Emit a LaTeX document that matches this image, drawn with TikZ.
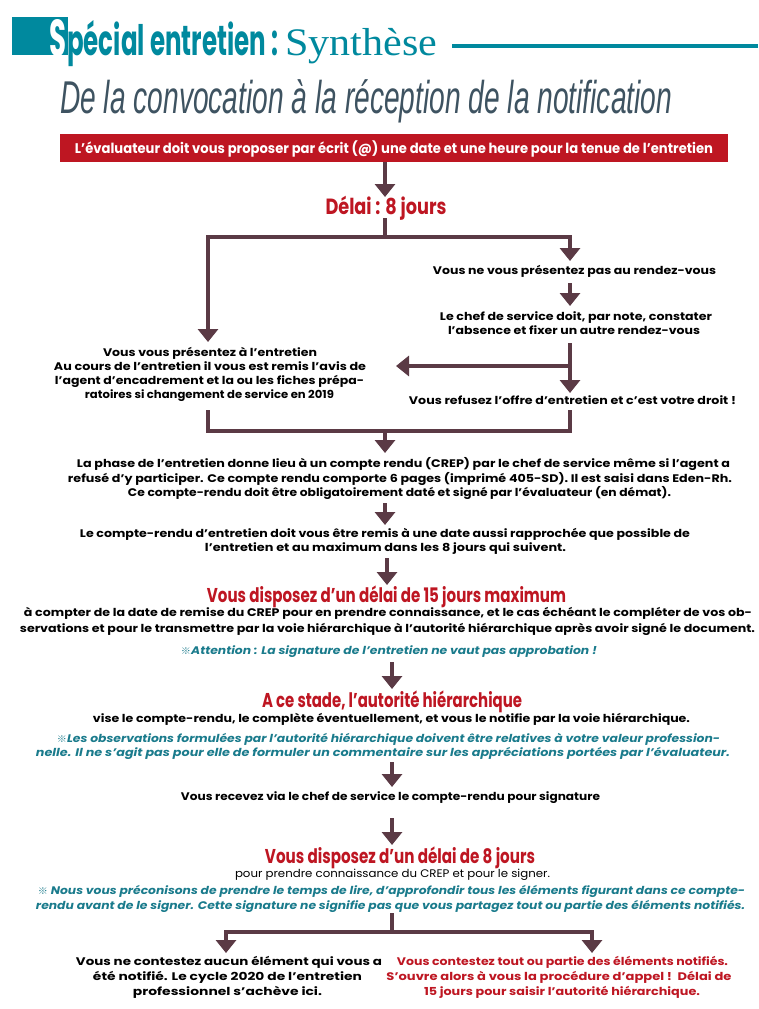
\documentclass[tikz,border=0pt]{standalone}
\usepackage{fontspec}
\setmainfont{Poppins}
\newfontfamily\lib{Liberation Sans}
\newfontfamily\libs{Liberation Serif}
\newfontfamily\cjk{Noto Sans CJK SC}
\usetikzlibrary{arrows.meta}
\definecolor{teal1}{HTML}{00899E}
\definecolor{slate}{HTML}{3E5361}
\definecolor{red1}{HTML}{BE1622}
\definecolor{brn}{HTML}{5B3A45}
\definecolor{tealtx}{HTML}{1A7B8C}
\newcommand\W[2]{\resizebox{#1pt}{\height}{#2}}
\newcommand\mk{{\cjk\fontsize{9}{9}\selectfont ※}}
\begin{document}
\begin{tikzpicture}[x=1pt,y=-1pt,
  txt/.style={inner sep=0pt, anchor=base, font=\bfseries\fontsize{11}{12}\selectfont, text=black},
  reg/.style={txt, font=\fontsize{11}{12}\selectfont},
  redtx/.style={txt, text=red1},
  head/.style={inner sep=0pt, anchor=base, text=red1, font=\bfseries\fontsize{20}{22}\selectfont},
  note/.style={txt, text=tealtx, font=\bfseries\itshape\fontsize{11}{12}\selectfont},
  ln/.style={draw=brn, line width=4.5pt},
  arr/.style={draw=brn, line width=4.5pt, -{Triangle[width=20pt,length=13pt]}}]
\useasboundingbox (0,0) rectangle (758,1009);
\fill[white] (0,0) rectangle (758,1009);

% header
\fill[teal1] (12,17) rectangle (68,55);
\node[inner sep=0pt, anchor=base west, text=white, font=\bfseries\fontsize{52}{52}\selectfont] (hS) at (49,56) {\W{17}{S}};
\node[inner sep=0pt, anchor=base west, text=teal1, font=\bfseries\fontsize{42}{42}\selectfont] (hsp) at (67,55) {\W{211}{pécial entretien :}};
\node[inner sep=0pt, anchor=base west, text=teal1, font=\libs\fontsize{39}{39}\selectfont] (hsy) at (285,55) {\W{152}{Synthèse}};
\coordinate (hl1) at (452,46);
\coordinate (hl2) at (758,46);
\draw[teal1, line width=4pt] (hl1) -- (hl2);
\node[inner sep=0pt, anchor=base west, text=slate, font=\lib\itshape\fontsize{46}{46}\selectfont] (title) at (60,113) {\W{612}{De la convocation à la réception de la notification}};

% red box
\node[fill=red1, minimum width=668pt, minimum height=28pt, inner sep=0pt] (box) at (394,148) {};
\node[txt, text=white, font=\bfseries\fontsize{14}{15}\selectfont] (boxt) at (394,153) {\W{638}{L’évaluateur doit vous proposer par écrit (@) une date et une heure pour la tenue de l’entretien}};

\node[head, font=\bfseries\fontsize{22}{24}\selectfont] (delai) at (386,214) {\W{121}{Délai : 8 jours}};

\node[txt] (nev) at (574.5,274) {\W{283}{Vous ne vous présentez pas au rendez-vous}};
\node[txt] (chef1) at (576,320) {\W{272}{Le chef de service doit, par note, constater}};
\node[txt] (chef2) at (574,334) {\W{252}{l’absence et fixer un autre rendez-vous}};
\node[txt] (refus) at (572.5,404) {\W{327}{Vous refusez l’offre d’entretien et c’est votre droit !}};

\node[txt] (pr1) at (210,356) {\W{214}{Vous vous présentez à l’entretien}};
\node[txt] (pr2) at (210,370) {\W{312}{Au cours de l’entretien il vous est remis l’avis de}};
\node[txt] (pr3) at (209.5,384) {\W{309}{l’agent d’encadrement et la ou les fiches prépa-}};
\node[txt] (pr4) at (209.5,398) {\W{249}{ratoires si changement de service en 2019}};

\node[txt] (cr1) at (403.5,467) {\W{653}{La phase de l’entretien donne lieu à un compte rendu (CREP) par le chef de service même si l’agent a}};
\node[txt] (cr2) at (400,482) {\W{664}{refusé d’y participer. Ce compte rendu comporte 6 pages (imprimé 405-SD). Il est saisi dans Eden-Rh.}};
\node[txt] (cr3) at (399.5,496) {\W{543}{Ce compte-rendu doit être obligatoirement daté et signé par l’évaluateur (en démat).}};

\node[txt] (rm1) at (385,537) {\W{610}{Le compte-rendu d’entretien doit vous être remis à une date aussi rapprochée que possible de}};
\node[txt] (rm2) at (385.5,551) {\W{361}{l’entretien et au maximum dans les 8 jours qui suivent.}};

\node[head] (h15) at (386.5,602) {\W{359}{Vous disposez d’un délai de 15 jours maximum}};
\node[txt] (cp1) at (388,616) {\W{728}{à compter de la date de remise du CREP pour en prendre connaissance, et le cas échéant le compléter de vos ob-}};
\node[txt] (cp2) at (387.5,632) {\W{735}{servations et pour le transmettre par la voie hiérarchique à l’autorité hiérarchique après avoir signé le document.}};
\node[note] (att) at (389,654) {\W{416}{\mk Attention : La signature de l’entretien ne vaut pas approbation !}};

\node[head] (hst) at (392,707) {\W{260}{A ce stade, l’autorité hiérarchique}};
\node[txt] (vise) at (391.5,722) {\W{597}{vise le compte-rendu, le complète éventuellement, et vous le notifie par la voie hiérarchique.}};
\node[note] (ob1) at (388.5,742) {\W{663}{\mk Les observations formulées par l’autorité hiérarchique doivent être relatives à votre valeur profession-}};
\node[note] (ob2) at (383,756) {\W{694}{nelle. Il ne s’agit pas pour elle de formuler un commentaire sur les appréciations portées par l’évaluateur.}};

\node[txt] (recv) at (390.5,800) {\W{419}{Vous recevez via le chef de service le compte-rendu pour signature}};

\node[head] (h8) at (400,863) {\W{270}{Vous disposez d’un délai de 8 jours}};
\node[reg] (pour) at (392.5,877) {\W{315}{pour prendre connaissance du CREP et pour le signer.}};
\node[note] (ns1) at (391.5,894) {\W{707}{\mk\ Nous vous préconisons de prendre le temps de lire, d’approfondir tous les éléments figurant dans ce compte-}};
\node[note] (ns2) at (390.5,909) {\W{709}{rendu avant de le signer. Cette signature ne signifie pas que vous partagez tout ou partie des éléments notifiés.}};

\node[txt] (bl1) at (229,965) {\W{306}{Vous ne contestez aucun élément qui vous a}};
\node[txt] (bl2) at (227.5,980) {\W{269}{été notifié. Le cycle 2020 de l’entretien}};
\node[txt] (bl3) at (227.5,995) {\W{189}{professionnel s’achève ici.}};
\node[redtx] (br1) at (562.5,965) {\W{331}{Vous contestez tout ou partie des éléments notifiés.}};
\node[redtx] (br2) at (559,980) {\W{345}{S’ouvre alors à vous la procédure d’appel !\ \ Délai de}};
\node[redtx] (br3) at (562,995) {\W{276}{15 jours pour saisir l’autorité hiérarchique.}};

% connectors
\coordinate (a1s) at (385,162);
\coordinate (a1e) at (385,197);
\draw[arr] (a1s) -- (a1e);
\coordinate (d1) at (385,218);
\coordinate (j1) at (385,237);
\coordinate (tL) at (208,342);
\coordinate (tR) at (570,261);
\draw[ln] (d1) -- (j1);
\draw[arr] (j1) -| (tL);
\draw[arr] (j1) -| (tR);
\coordinate (a2s) at (570,283);
\coordinate (a2e) at (570,306);
\draw[arr] (a2s) -- (a2e);
\coordinate (a3s) at (570,343);
\coordinate (a3e) at (570,393);
\draw[arr] (a3s) -- (a3e);
\coordinate (h1s) at (570,366);
\coordinate (h1e) at (396,366);
\draw[arr] (h1s) -- (h1e);
\coordinate (bL) at (208,410);
\coordinate (bR) at (570,410);
\coordinate (j2) at (385,431);
\draw[ln, line join=miter] (bL) |- (bR |- j2) -- (bR);
\coordinate (a4e) at (385,453);
\draw[arr] (j2) -- (a4e);
\coordinate (a5s) at (385,503);
\coordinate (a5e) at (385,525);
\draw[arr] (a5s) -- (a5e);
\coordinate (a6s) at (387,558);
\coordinate (a6e) at (387,585);
\draw[arr] (a6s) -- (a6e);
\coordinate (a7s) at (392,662);
\coordinate (a7e) at (392,689);
\draw[arr] (a7s) -- (a7e);
\coordinate (a8s) at (392,762);
\coordinate (a8e) at (392,787);
\draw[arr] (a8s) -- (a8e);
\coordinate (a9s) at (392,818);
\coordinate (a9e) at (392,845);
\draw[arr] (a9s) -- (a9e);
\coordinate (d3) at (392,913);
\coordinate (j3) at (392,932);
\coordinate (t3L) at (226,953);
\coordinate (t3R) at (592,953);
\draw[ln] (d3) -- (j3);
\draw[arr] (j3) -| (t3L);
\draw[arr] (j3) -| (t3R);
\end{tikzpicture}
\end{document}
